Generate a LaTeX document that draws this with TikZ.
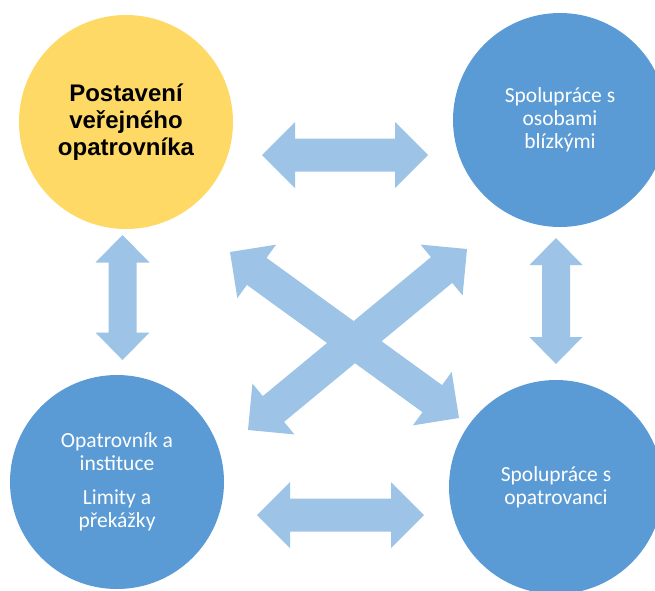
\documentclass[tikz,border=0pt]{standalone}
\usepackage{fontspec}
\setmainfont{Carlito}
\newfontfamily\arialfont{Liberation Sans}
\usetikzlibrary{calc}

\definecolor{gold}{HTML}{FFD966}
\definecolor{ablue}{HTML}{5B9BD5}
\definecolor{lblue}{HTML}{9DC3E6}

\tikzset{
  bubble/.style={circle, minimum size=214pt, inner sep=0pt, align=center},
  goldbubble/.style={bubble, fill=gold, font=\arialfont\bfseries\fontsize{24}{27}\selectfont},
  bluebubble/.style={bubble, fill=ablue, text=white, font=\fontsize{21.5}{23}\selectfont},
  arrowfill/.style={fill=lblue},
}

% double block arrow: from, to, head length, head half width, shaft half width
\newcommand{\blockarrow}[5]{%
  \coordinate (ah) at ($(#1)!#3!(#2)$);
  \coordinate (at) at ($(#2)!#3!(#1)$);
  \fill[arrowfill] (#1) -- ($(ah)!#4!90:(#2)$) -- ($(ah)!#5!90:(#2)$)
    -- ($(at)!#5!-90:(#1)$) -- ($(at)!#4!-90:(#1)$) -- (#2)
    -- ($(at)!#4!90:(#1)$) -- ($(at)!#5!90:(#1)$)
    -- ($(ah)!#5!-90:(#2)$) -- ($(ah)!#4!-90:(#2)$) -- cycle;
}

\begin{document}
\begin{tikzpicture}[x=1pt,y=-1pt]
\useasboundingbox (0,0) rectangle (655,590);

% circles
\node[goldbubble] (postaveni) at (126,122) {Postavení\\veřejného\\opatrovníka};
\node[bluebubble] (blizci) at (560,120) {Spolupráce s\\osobami\\blízkými};
\node[bluebubble] (instituce) at (117,482) {Opatrovník a\\instituce\\[11pt]Limity a\\překážky};
\node[bluebubble] (opatrovanci) at (556,487) {Spolupráce s\\opatrovanci};

% arrow ends
\coordinate (t1) at (262,155);   \coordinate (t2) at (428,155);
\coordinate (b1) at (257,515);   \coordinate (b2) at (424,515);
\coordinate (l1) at (122.5,235); \coordinate (l2) at (122.5,360);
\coordinate (r1) at (556,238);   \coordinate (r2) at (556,364);
\coordinate (d1) at (230,252);   \coordinate (d2) at (459,418);
\coordinate (e1) at (248,430);   \coordinate (e2) at (467,249);

% arrows
\blockarrow{t1}{t2}{33pt}{33pt}{16.5pt}
\blockarrow{b1}{b2}{33pt}{33pt}{16.5pt}
\blockarrow{l1}{l2}{27.5pt}{27pt}{14pt}
\blockarrow{r1}{r2}{27pt}{26.5pt}{14pt}
\blockarrow{d1}{d2}{33pt}{33pt}{16.7pt}
\blockarrow{e1}{e2}{33pt}{33pt}{16.7pt}

\end{tikzpicture}
\end{document}
